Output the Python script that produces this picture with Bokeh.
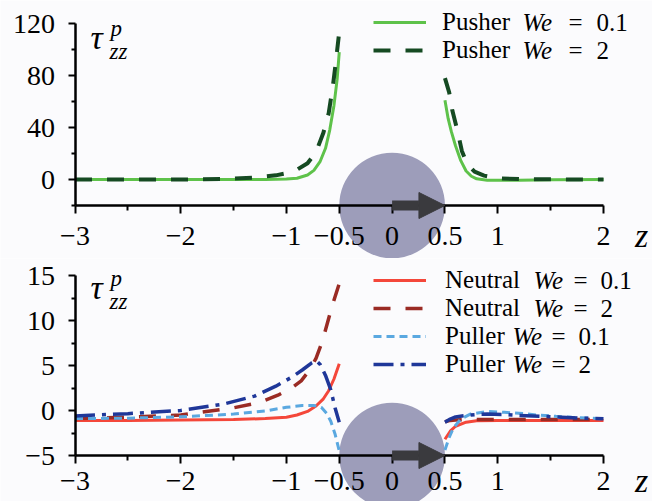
import numpy as np
from bokeh.plotting import figure
from bokeh.models import (Range1d, FixedTicker, Label, Legend, LegendItem,
                          Arrow, NormalHead)
from bokeh.layouts import column
from bokeh.embed import file_html
from bokeh.resources import INLINE

# ---------------- data ----------------
# Top panel: pusher
pusher01_left_z = [-3, -2, -1.5, -1.2, -1.0, -0.9, -0.8, -0.74, -0.68, -0.63, -0.59, -0.55, -0.52, -0.5]
pusher01_left_t = [0, 0, 0, 0, 0.3, 1.0, 3.5, 7, 14, 24, 38, 57, 77, 98]
pusher01_right_z = [0.5, 0.53, 0.56, 0.6, 0.65, 0.7, 0.75, 0.8, 0.9, 1.0, 1.2, 1.5, 2.0]
pusher01_right_t = [61, 47, 37, 26, 14.5, 6.5, 2.5, 0.5, -0.5, -0.6, -0.5, -0.2, 0]

pusher2_left_z = [-3, -2.0, -1.6, -1.3, -1.1, -1.0, -0.9, -0.8, -0.72, -0.65, -0.6, -0.56, -0.53, -0.505]
pusher2_left_t = [0, 0, 0.4, 1.5, 3.2, 4.8, 7.5, 12.5, 21, 36, 51, 72, 92, 110]
pusher2_right_z = [0.5, 0.54, 0.57, 0.62, 0.66, 0.71, 0.78, 0.87, 1.0, 1.2, 1.5, 2.0]
pusher2_right_t = [78, 67, 53, 37, 22, 12, 6, 3, 1, 0.3, 0.1, 0]

# Bottom panel: neutral and puller
neutral01_left_z = [-3, -2.5, -2, -1.5, -1.2, -1.0, -0.9, -0.8, -0.72, -0.65, -0.6, -0.55, -0.5]
neutral01_left_t = [-1.1, -1.1, -1.05, -1.0, -0.9, -0.75, -0.5, -0.1, 0.5, 1.3, 2.2, 3.5, 5.2]
neutral01_right_z = [0.5, 0.55, 0.6, 0.7, 0.8, 1.0, 1.5, 2.0]
neutral01_right_t = [-3.2, -2.3, -1.75, -1.3, -1.15, -1.1, -1.1, -1.1]

neutral2_left_z = [-3, -2.5, -2.0, -1.5, -1.25, -1.08, -0.95, -0.86, -0.78, -0.72, -0.66, -0.61, -0.56, -0.5]
neutral2_left_t = [-0.9, -0.75, -0.5, 0.3, 0.9, 1.7, 2.5, 3.3, 4.5, 5.8, 7.7, 9.8, 11.9, 14.1]
neutral2_right_z = [0.5, 0.55, 0.6, 0.7, 0.8, 1.0, 1.5, 2.0]
neutral2_right_t = [-1.25, -1.1, -1.05, -1.0, -1.0, -1.0, -1.0, -1.0]

puller01_left_z = [-3, -2.5, -2, -1.5, -1.2, -1.0, -0.85, -0.74, -0.67, -0.62, -0.58, -0.54, -0.5]
puller01_left_t = [-0.9, -0.85, -0.7, -0.4, -0.05, 0.35, 0.55, 0.55, 0.35, -0.3, -1.2, -2.6, -4.5]
puller01_right_z = [0.5, 0.54, 0.58, 0.65, 0.74, 0.9, 1.06, 1.2, 1.37, 1.55, 1.7, 2.0]
puller01_right_t = [-4.4, -3.0, -1.95, -0.95, -0.4, -0.1, -0.2, -0.3, -0.5, -0.65, -0.75, -0.93]

puller2_left_z = [-3, -2.5, -2.0, -1.6, -1.3, -1.1, -0.95, -0.85, -0.76, -0.72, -0.68, -0.63, -0.58, -0.54, -0.5]
puller2_left_t = [-0.6, -0.35, 0.0, 0.7, 1.6, 2.7, 3.7, 4.5, 5.3, 5.55, 5.1, 3.9, 2.3, 0.3, -1.3]
puller2_right_z = [0.5, 0.55, 0.6, 0.7, 0.8, 0.9, 1.05, 1.2, 1.4, 1.6, 1.8, 2.0]
puller2_right_t = [-1.3, -0.95, -0.72, -0.55, -0.45, -0.4, -0.45, -0.55, -0.65, -0.75, -0.85, -0.93]

# Axes / ticks
z_ticks = [-3, -2, -1, -0.5, 0, 0.5, 1, 2]
z_minor = [-2.5, -1.5, 1.5]
z_labels = {-3: "\u22123", -2: "\u22122", -1: "\u22121", -0.5: "\u22120.5",
            0: "0", 0.5: "0.5", 1: "1", 2: "2"}
z_bounds = (-3, 2)
top_ticks = [0, 40, 80, 120]
top_minor = [-20, 20, 60, 100]
top_bounds = (-20, 120)
bot_ticks = [-5, 0, 5, 10, 15]
bot_minor = [-2.5, 2.5, 7.5, 12.5]
bot_bounds = (-5, 15)
bot_labels = {-5: "\u22125", 0: "0", 5: "5", 10: "10", 15: "15"}

# Sphere (swimmer) and swimming direction
sphere_z = [0]
sphere_radius = 0.5
swim_from, swim_to = 0, 0.5

# ---------------- layout ----------------
FONT = "Liberation Serif"
BG = "#fbfbfd"
W = 652
H_TOP = 258
H_BOT = 243
TOP0 = 0             # page y of top figure
BOT0 = TOP0 + H_TOP  # page y of bottom figure

# pixel positions of axis extremes (page coordinates)
PX_ZMIN, PX_ZMAX = 74.5, 603.0
zs = (PX_ZMAX - PX_ZMIN) / (z_bounds[1] - z_bounds[0])
x_start = z_bounds[0] - PX_ZMIN / zs
x_end = z_bounds[1] + (W - PX_ZMAX) / zs


def yrange(fig_top, fig_h, bounds, py_lo, py_hi):
    s = (py_lo - py_hi) / (bounds[1] - bounds[0])
    end = bounds[1] + (py_hi - fig_top) / s
    start = bounds[0] - (fig_top + fig_h - py_lo) / s
    return start, end


def make_fig(h, ys, ye, yticks, yminor, ybounds, ylabels, standoff):
    p = figure(width=W, height=h, output_backend="svg", toolbar_location=None,
               x_range=Range1d(x_start, x_end), y_range=Range1d(ys, ye),
               min_border=0, min_border_left=0, min_border_right=0,
               min_border_top=0, min_border_bottom=0)
    p.background_fill_color = BG
    p.border_fill_color = BG
    p.outline_line_color = None
    p.grid.visible = False
    for ax in (p.xaxis[0], p.yaxis[0]):
        ax.axis_line_width = 2.5
        ax.axis_line_color = "black"
        ax.major_tick_line_width = 2
        ax.minor_tick_line_width = 2
        ax.major_tick_in = 0
        ax.minor_tick_in = 0
        ax.major_label_text_font = FONT
        ax.major_label_text_font_size = "28px"
        ax.major_label_text_color = "black"
    xa = p.xaxis[0]
    xa.ticker = FixedTicker(ticks=z_ticks, minor_ticks=z_minor)
    xa.major_label_overrides = z_labels
    xa.bounds = z_bounds
    xa.fixed_location = ybounds[0]
    xa.major_tick_out = 8
    xa.minor_tick_out = 5
    xa.major_label_standoff = standoff
    ya = p.yaxis[0]
    ya.ticker = FixedTicker(ticks=yticks, minor_ticks=yminor)
    if ylabels:
        ya.major_label_overrides = ylabels
    ya.bounds = ybounds
    ya.fixed_location = z_bounds[0]
    ya.major_tick_out = 7
    ya.minor_tick_out = 4
    ya.major_label_standoff = 13
    # sphere and arrow
    p.circle(x=sphere_z, y=[ybounds[0]], radius=sphere_radius,
             fill_color="#9d9dba", line_color=None, level="underlay")
    p.add_layout(Arrow(end=NormalHead(size=26, fill_color="#3a3a3e", line_color="#3a3a3e"),
                       x_start=swim_from, y_start=ybounds[0], x_end=swim_to, y_end=ybounds[0],
                       line_width=10, line_color="#3a3a3e"))
    return p


def add_text(p, fig_top, fig_h, x, y, text, size, style="normal", align="left",
             baseline="alphabetic"):
    p.add_layout(Label(x=x, y=fig_top + fig_h - y, x_units="screen", y_units="screen",
                       text=text, text_font=FONT, text_font_size=size,
                       text_font_style=style, text_align=align, text_baseline=baseline,
                       text_color="black"))


def tau_label(p, fig_top, fig_h, dy):
    add_text(p, fig_top, fig_h, 90, 37 + dy, "\u03c4", "34px", "italic")
    add_text(p, fig_top, fig_h, 110, 28 + dy, "p", "23px", "italic")
    add_text(p, fig_top, fig_h, 109, 51 + dy, "zz", "23px", "italic")


ROW_H = 30


def legend_row(p, fig_top, fig_h, renderer, word, y_center, standoff):
    leg = Legend(items=[LegendItem(label=word, renderers=[renderer])],
                 location=(373, fig_top + fig_h - (y_center + ROW_H / 2)),
                 padding=0, margin=0, spacing=0,
                 glyph_width=53, glyph_height=ROW_H, label_height=ROW_H,
                 label_standoff=standoff,
                 border_line_color=None, background_fill_alpha=0,
                 label_text_font=FONT, label_text_font_size="25px",
                 label_text_color="black")
    p.add_layout(leg)


# ---------------- top panel ----------------
ys, ye = yrange(TOP0, H_TOP, top_bounds, 205, 23)
p1 = make_fig(H_TOP, ys, ye, top_ticks, top_minor, top_bounds, None, 13)

GREEN, DGREEN = "#5ec24a", "#154a22"
r_p01a = p1.line(pusher01_left_z, pusher01_left_t, line_color=GREEN, line_width=3)
r_p01b = p1.line(pusher01_right_z, pusher01_right_t, line_color=GREEN, line_width=3)
r_p2a = p1.line(pusher2_left_z, pusher2_left_t, line_color=DGREEN, line_width=4, line_dash="17 15")
r_p2b = p1.line(pusher2_right_z, pusher2_right_t, line_color=DGREEN, line_width=4, line_dash="17 15")

for r, yrow, num in ((r_p01a, 22, "0.1"), (r_p2a, 50, "2")):
    legend_row(p1, TOP0, H_TOP, r, "Pusher", yrow, 16)
    add_text(p1, TOP0, H_TOP, 522, yrow, "We", "25px", "italic", baseline="middle")
    add_text(p1, TOP0, H_TOP, 568, yrow, "=", "25px", baseline="middle")
    add_text(p1, TOP0, H_TOP, 596, yrow, num, "25px", baseline="middle")

tau_label(p1, TOP0, H_TOP, 0)
add_text(p1, TOP0, H_TOP, 641, 235, "z", "34px", "italic", "center", "middle")

# ---------------- bottom panel ----------------
ys, ye = yrange(BOT0, H_BOT, bot_bounds, 455, 275)
p2 = make_fig(H_BOT, ys, ye, bot_ticks, bot_minor, bot_bounds, bot_labels, 8)

RED, DRED, LBLUE, DBLUE = "#f4473a", "#9a2b24", "#5aa8e0", "#1f3799"
r_n01 = p2.line(neutral01_left_z, neutral01_left_t, line_color=RED, line_width=3)
p2.line(neutral01_right_z, neutral01_right_t, line_color=RED, line_width=3)
r_n2 = p2.line(neutral2_left_z, neutral2_left_t, line_color=DRED, line_width=3.5, line_dash="17 15")
p2.line(neutral2_right_z, neutral2_right_t, line_color=DRED, line_width=3.5, line_dash="17 15")
r_u01 = p2.line(puller01_left_z, puller01_left_t, line_color=LBLUE, line_width=3, line_dash="8 5")
p2.line(puller01_right_z, puller01_right_t, line_color=LBLUE, line_width=3, line_dash="8 5")
r_u2 = p2.line(puller2_left_z, puller2_left_t, line_color=DBLUE, line_width=3.5, line_dash="20 7 4 7")
p2.line(puller2_right_z, puller2_right_t, line_color=DBLUE, line_width=3.5, line_dash="20 7 4 7")

for r, word, yrow, wx, ex, nx, num in (
        (r_n01, "Neutral", 280, 533, 573, 600, "0.1"),
        (r_n2, "Neutral", 308, 533, 573, 600, "2"),
        (r_u01, "Puller", 336, 512, 551, 578, "0.1"),
        (r_u2, "Puller", 364, 512, 551, 578, "2")):
    legend_row(p2, BOT0, H_BOT, r, word, yrow, 19)
    add_text(p2, BOT0, H_BOT, wx, yrow, "We", "25px", "italic", baseline="middle")
    add_text(p2, BOT0, H_BOT, ex, yrow, "=", "25px", baseline="middle")
    add_text(p2, BOT0, H_BOT, nx, yrow, num, "25px", baseline="middle")

tau_label(p2, BOT0, H_BOT, 250)
add_text(p2, BOT0, H_BOT, 641, 480, "z", "34px", "italic", "center", "middle")

layout = column(p1, p2, spacing=0)
open("out.html", "w").write(file_html(layout, INLINE))
